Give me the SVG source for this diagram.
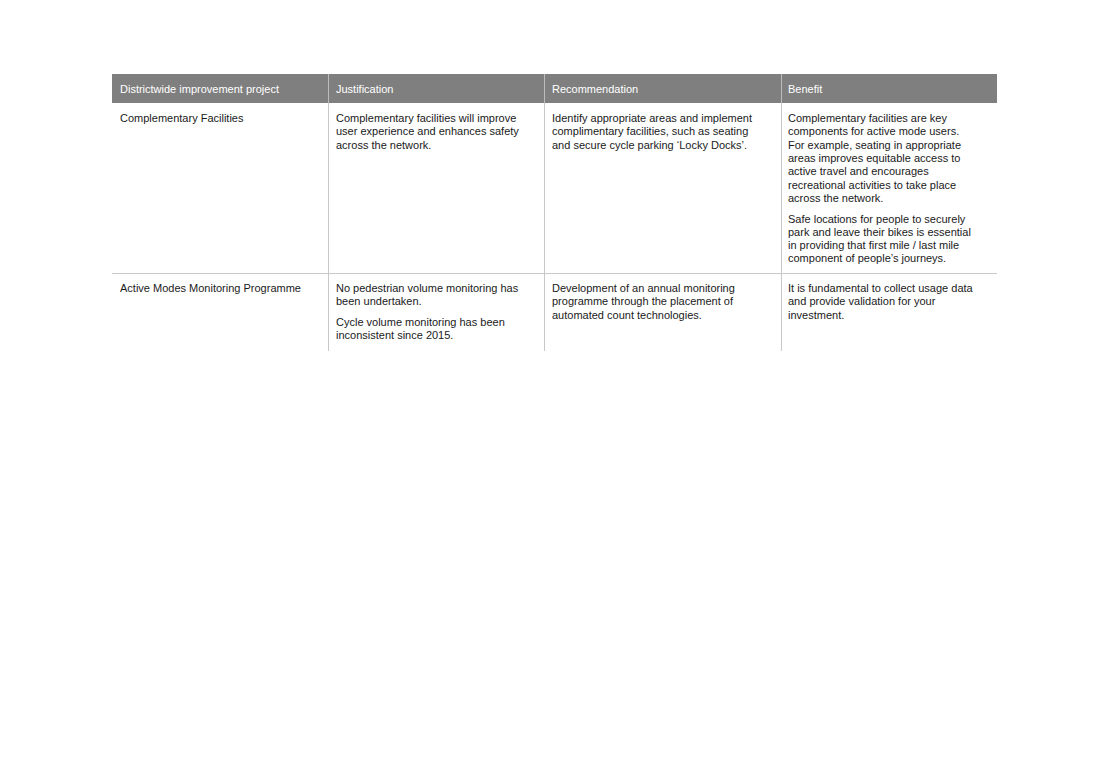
<svg xmlns="http://www.w3.org/2000/svg" width="1108" height="783" viewBox="0 0 1108 783">
<style>
text{font-family:"Liberation Sans",Arial,sans-serif;font-size:11px;fill:#1a1a1a}
.h{fill:#fff}
.v{stroke:#c8c8c8;stroke-width:1}
</style>
<rect width="1108" height="783" fill="#fff"/>
<g id="header">
<rect x="112" y="74" width="885" height="29" fill="#7f7f7f"/>
<line x1="328.5" y1="74" x2="328.5" y2="103" stroke="#bdbdbd"/>
<line x1="544.5" y1="74" x2="544.5" y2="103" stroke="#bdbdbd"/>
<line x1="781.5" y1="74" x2="781.5" y2="103" stroke="#bdbdbd"/>
<text class="h" x="120" y="93">Districtwide improvement project</text>
<text class="h" x="336" y="93">Justification</text>
<text class="h" x="552" y="93">Recommendation</text>
<text class="h" x="788" y="93">Benefit</text>
</g>
<g id="grid">
<line class="v" x1="328.5" y1="103" x2="328.5" y2="351"/>
<line class="v" x1="544.5" y1="103" x2="544.5" y2="351"/>
<line class="v" x1="781.5" y1="103" x2="781.5" y2="351"/>
<line class="v" x1="112" y1="273.5" x2="997" y2="273.5"/>
</g>
<g id="row1">
<text x="120" y="122">Complementary Facilities</text>
<text x="336" y="122">Complementary facilities will improve</text>
<text x="336" y="135.3">user experience and enhances safety</text>
<text x="336" y="148.6">across the network.</text>
<text x="552" y="122">Identify appropriate areas and implement</text>
<text x="552" y="135.3">complimentary facilities, such as seating</text>
<text x="552" y="148.6">and secure cycle parking ‘Locky Docks’.</text>
<text x="788" y="122">Complementary facilities are key</text>
<text x="788" y="135.3">components for active mode users.</text>
<text x="788" y="148.6">For example, seating in appropriate</text>
<text x="788" y="161.9">areas improves equitable access to</text>
<text x="788" y="175.2">active travel and encourages</text>
<text x="788" y="188.5">recreational activities to take place</text>
<text x="788" y="201.8">across the network.</text>
<text x="788" y="222.5">Safe locations for people to securely</text>
<text x="788" y="235.8">park and leave their bikes is essential</text>
<text x="788" y="249.1">in providing that first mile / last mile</text>
<text x="788" y="262.4">component of people’s journeys.</text>
</g>
<g id="row2">
<text x="120" y="292">Active Modes Monitoring Programme</text>
<text x="336" y="292">No pedestrian volume monitoring has</text>
<text x="336" y="305.3">been undertaken.</text>
<text x="336" y="326">Cycle volume monitoring has been</text>
<text x="336" y="339.3">inconsistent since 2015.</text>
<text x="552" y="292">Development of an annual monitoring</text>
<text x="552" y="305.3">programme through the placement of</text>
<text x="552" y="318.6">automated count technologies.</text>
<text x="788" y="292">It is fundamental to collect usage data</text>
<text x="788" y="305.3">and provide validation for your</text>
<text x="788" y="318.6">investment.</text>
</g>
</svg>
